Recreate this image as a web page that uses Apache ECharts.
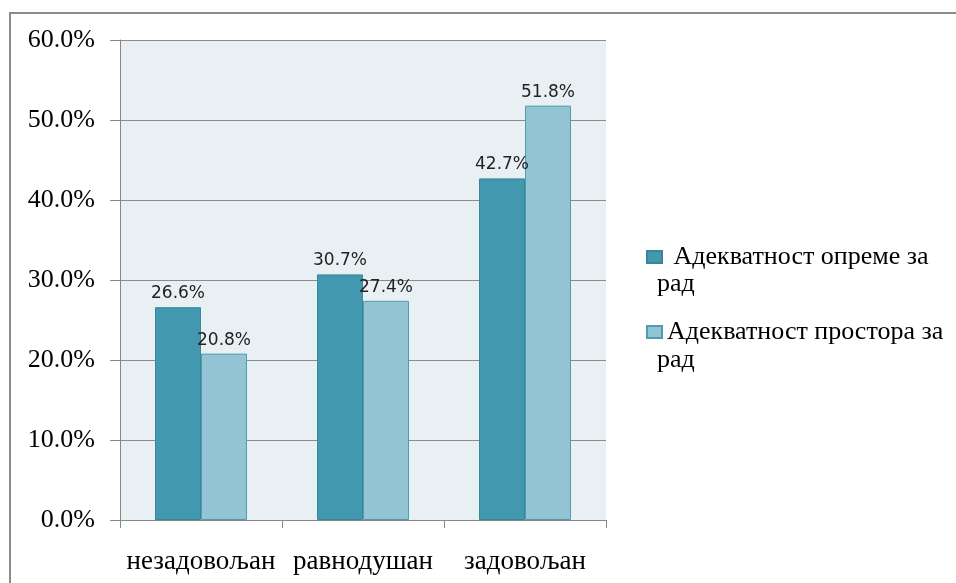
<!DOCTYPE html>
<html><head><meta charset="utf-8">
<script src="https://cdn.jsdelivr.net/npm/echarts@6/dist/echarts.min.js"></script>
<style>html,body{margin:0;padding:0;background:#fff}#c{width:956px;height:583px}</style>
</head><body><div id="c"></div>
<script>
const categories = ['незадовољан', 'равнодушан', 'задовољан'];
const seriesNames = ['Адекватност опреме за рад', 'Адекватност простора за рад'];
const equipment = [26.6, 30.7, 42.7];
const space = [20.8, 27.4, 51.8];
const legendFirstLines = [' Адекватност опреме за', 'Адекватност простора за'];
const legendSecondLines = ['рад', 'рад'];

const chart = echarts.init(document.getElementById('c'));
const lblFmt = p => p.value.toFixed(1) + '%';
const serif = 'Liberation Serif';
chart.setOption({
  animation: false,
  graphic: [
    {type:'rect', shape:{x:10, y:13, width:960, height:600}, style:{fill:'none', stroke:'#8c8c8c', lineWidth:2}, z:-10},
    {type:'text', left:657, top:271, style:{text:legendSecondLines[0], font:'26px "Liberation Serif"', fill:'#000'}},
    {type:'text', left:657, top:347, style:{text:legendSecondLines[1], font:'26px "Liberation Serif"', fill:'#000'}}
  ],
  grid: {left:120, top:40, width:486, height:480, show:true, backgroundColor:'#E9F0F4', borderWidth:0},
  legend: {
    orient:'vertical', left:641, top:237, itemWidth:15, itemHeight:12, itemGap:45,
    icon:'rect',
    data: seriesNames,
    formatter: n => legendFirstLines[seriesNames.indexOf(n)],
    textStyle:{fontFamily:serif, fontSize:26, color:'#000', lineHeight:30}
  },
  xAxis: {
    type:'category', data:categories,
    axisLine:{lineStyle:{color:'#888'}},
    axisTick:{show:true, length:8, lineStyle:{color:'#888'}},
    axisLabel:{interval:0, hideOverlap:false, margin:28, fontFamily:serif, fontSize:27, color:'#000'}
  },
  yAxis: {
    type:'value', min:0, max:60, interval:10,
    axisLine:{show:true, lineStyle:{color:'#888'}},
    axisTick:{show:true, length:10, lineStyle:{color:'#888'}},
    splitLine:{lineStyle:{color:'#8a8a8a'}},
    axisLabel:{margin:25, formatter: v => v.toFixed(1) + '%', fontFamily:serif, fontSize:26, color:'#000'}
  },
  series: [
    {name:seriesNames[0], type:'bar', data:equipment, barWidth:46, barGap:'0%',
     itemStyle:{color:'#4198AF', borderColor:'#3A8599', borderWidth:1},
     label:{show:true, position:'top', distance:5, formatter:lblFmt, fontFamily:'DejaVu Sans', fontSize:17, color:'#222'}},
    {name:seriesNames[1], type:'bar', data:space, barWidth:46, barGap:'0%',
     itemStyle:{color:'#93C4D4', borderColor:'#4F9CB3', borderWidth:1},
     label:{show:true, position:'top', distance:5, formatter:lblFmt, fontFamily:'DejaVu Sans', fontSize:17, color:'#222'}}
  ]
});
</script></body></html>
